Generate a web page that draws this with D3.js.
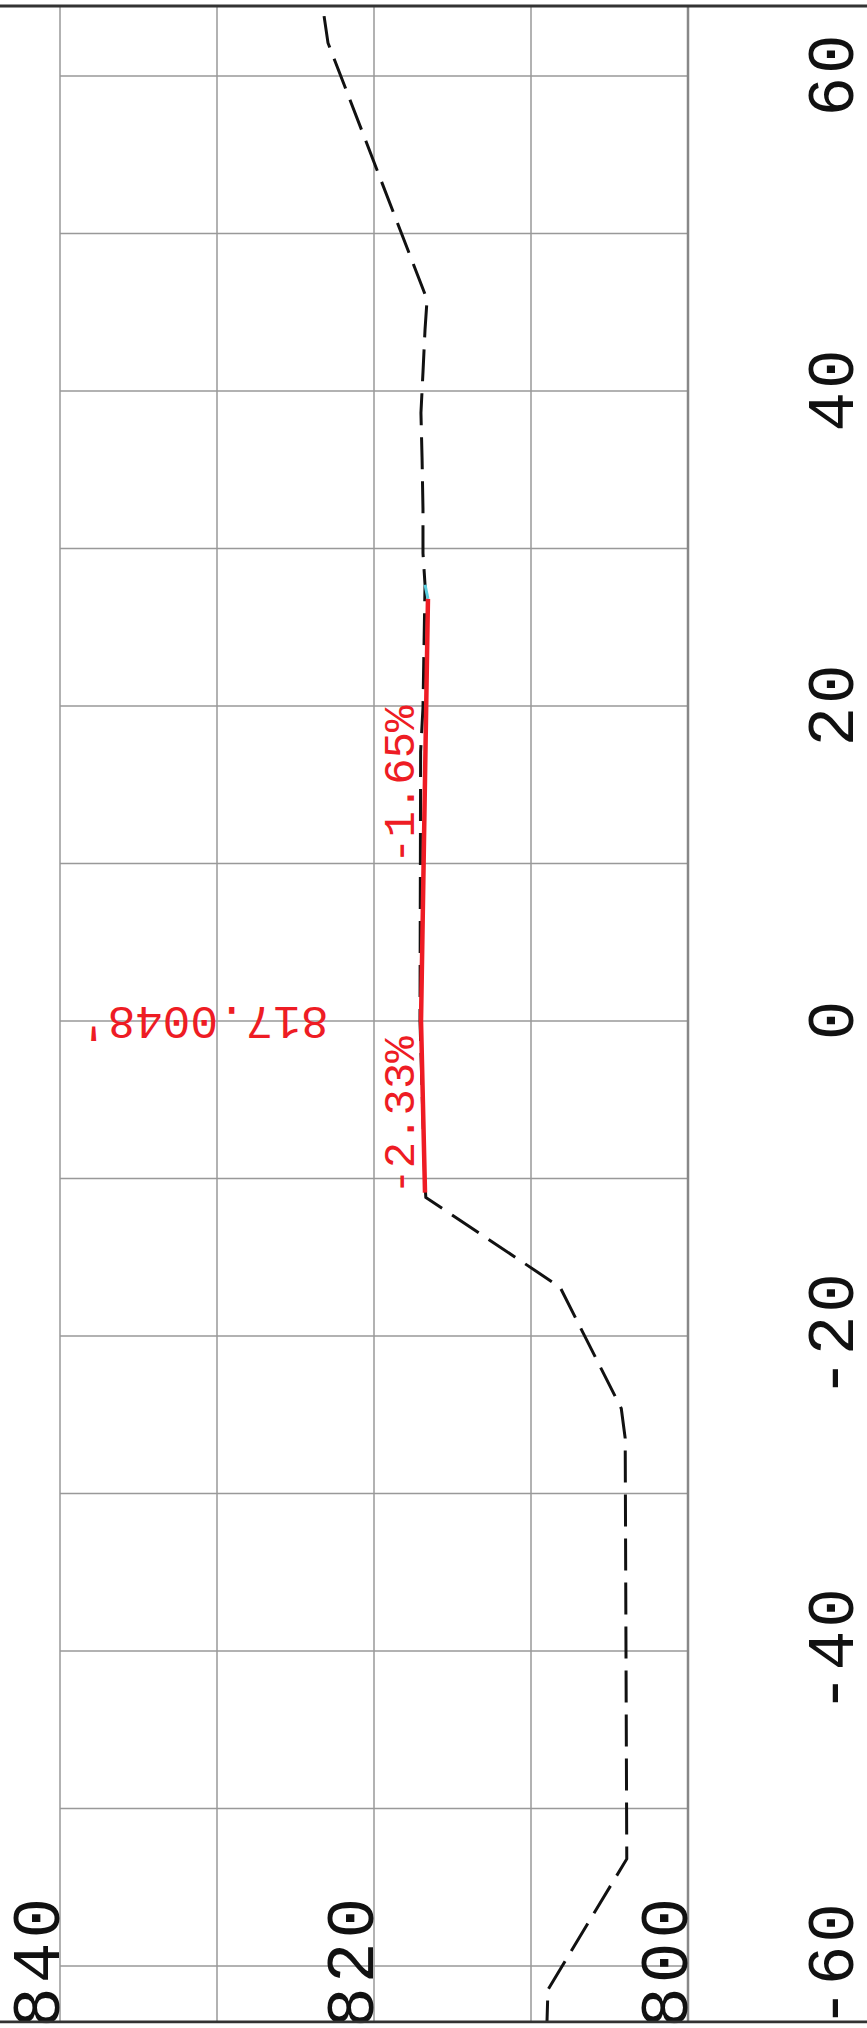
<!DOCTYPE html>
<html>
<head>
<meta charset="utf-8">
<script src="https://cdn.jsdelivr.net/npm/d3@7"></script>
<style>
  html, body { margin: 0; padding: 0; background: #fff; }
  svg { display: block; }
</style>
</head>
<body>
<svg id="chart" width="867" height="2028"></svg>
<script>
// ---- data ----
const offsetGrid = [-60, -50, -40, -30, -20, -10, 0, 10, 20, 30, 40, 50, 60];
const offsetLabels = [-60, -40, -20, 0, 20, 40, 60];
const elevGrid = [800, 810, 820, 830, 840];
const elevLabels = [800, 820, 840];

// existing ground (dashed)
const groundOffset = [63.8, 62.1, 45.8, 43.9, 41.2, 38.6, 35.8, 32.5, 29.7, 27.7, 19.9, 17.1, 0, -10.0, -11.2, -16.9, -24.6, -26.5, -53.2, -61.5, -63.5];
const groundElev   = [823.18, 822.93, 816.62, 816.75, 816.88, 817.01, 816.94, 816.88, 816.88, 816.75, 816.88, 817.03, 817.07, 816.77, 816.70, 808.15, 804.25, 804.00, 803.90, 808.92, 808.98];

// design road (red)
const roadOffset = [-10.9, 0, 26.8];
const roadElev = [816.751, 817.0048, 816.563];

// cyan connector
const tieOffset = [27.7, 26.8];
const tieElev = [816.75, 816.563];

// labels
const slopeText = ["-2.33%", "-1.65%"];
const slopeOffset = [-6.0, 15.0];
const centerLabel = "817.0048'";
const centerOffset = 0;

// ---- scales (chart is drawn rotated: offset runs up the page, elevation runs leftwards) ----
const xE = d3.scaleLinear().domain([800, 840]).range([688, 60]);
const yO = d3.scaleLinear().domain([-60, 60]).range([1966, 76]);
const topY = 6, botY = 2022;

const svg = d3.select("#chart");
const mono = "'Liberation Mono', 'DejaVu Sans Mono', monospace";

// grid: offset lines (horizontal)
svg.append("g").selectAll("line").data(offsetGrid).join("line")
  .attr("x1", xE(840)).attr("x2", xE(800))
  .attr("y1", d => yO(d)).attr("y2", d => yO(d))
  .attr("stroke", "#999").attr("stroke-width", 1.5);

// grid: elevation lines (vertical)
svg.append("g").selectAll("line").data(elevGrid).join("line")
  .attr("x1", d => xE(d)).attr("x2", d => xE(d))
  .attr("y1", topY).attr("y2", botY)
  .attr("stroke", d => d === 800 ? "#888" : "#999")
  .attr("stroke-width", d => d === 800 ? 2.5 : 1.5);

// elevation labels
svg.append("g").selectAll("text").data(elevLabels).join("text")
  .attr("transform", d => `translate(${xE(d) - 1},${botY + 6}) rotate(-90)`)
  .attr("text-anchor", "start")
  .attr("font-family", mono).attr("font-size", 68)
  .attr("letter-spacing", 4)
  .attr("fill", "#111")
  .text(d => d);

// offset labels
svg.append("g").selectAll("text").data(offsetLabels).join("text")
  .attr("transform", d => `translate(853,${yO(d) - 2}) rotate(-90)`)
  .attr("text-anchor", "middle")
  .attr("font-family", mono).attr("font-size", 66)
  .attr("letter-spacing", 3)
  .attr("fill", "#111")
  .text(d => d);

const line = d3.line().x(d => xE(d[1])).y(d => yO(d[0]));

// ground dashed line
svg.append("path")
  .datum(groundOffset.map((o, i) => [o, groundElev[i]]))
  .attr("d", line)
  .attr("fill", "none").attr("stroke", "#111").attr("stroke-width", 3)
  .attr("stroke-dasharray", "32,12");

// cyan tie
svg.append("path")
  .datum(tieOffset.map((o, i) => [o, tieElev[i]]))
  .attr("d", line)
  .attr("fill", "none").attr("stroke", "#5ccfe0").attr("stroke-width", 3);

// road red line
svg.append("path")
  .datum(roadOffset.map((o, i) => [o, roadElev[i]]))
  .attr("d", line)
  .attr("fill", "none").attr("stroke", "#ee1c24").attr("stroke-width", 4.5);

// slope labels
svg.append("g").selectAll("text").data(slopeText).join("text")
  .attr("transform", (d, i) => `translate(${xE(817.0048) - 7},${yO(slopeOffset[i])}) rotate(-90)`)
  .attr("text-anchor", "middle")
  .attr("font-family", mono).attr("font-size", 44)
  .attr("fill", "#ee1c24")
  .text(d => d);

// center elevation label (upside down)
svg.append("text")
  .attr("transform", `translate(${xE(817.0048 + 5.9)},${yO(centerOffset) - 14}) rotate(180)`)
  .attr("text-anchor", "start")
  .attr("font-family", mono).attr("font-size", 46)
  .attr("fill", "#ee1c24")
  .text(centerLabel);

// top & bottom frame lines
svg.append("g").selectAll("line").data([topY, botY]).join("line")
  .attr("x1", 0).attr("x2", 867)
  .attr("y1", d => d).attr("y2", d => d)
  .attr("stroke", "#333").attr("stroke-width", 3);
svg.append("rect").attr("x", 0).attr("y", botY + 1.5).attr("width", 867).attr("height", 10).attr("fill", "#fff");
</script>
</body>
</html>
